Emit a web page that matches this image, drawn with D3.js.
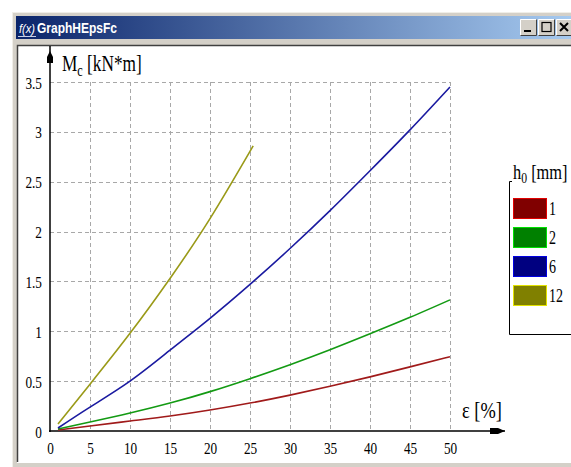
<!DOCTYPE html>
<html><head><meta charset="utf-8">
<script src="https://cdn.jsdelivr.net/npm/d3@7"></script>
<style>body{margin:0;background:#fff;}svg{display:block;}</style>
</head><body>
<script>
// ---- data ----
const epsValues = [1, 5, 10, 15, 20, 25, 30, 35, 40, 45, 50];
const epsShort = [1, 5, 10, 15, 20, 25.4];
const h1Values = [0.01, 0.05, 0.1, 0.15, 0.21, 0.28, 0.36, 0.448, 0.543, 0.643, 0.745];
const h2Values = [0.02, 0.09, 0.18, 0.28, 0.395, 0.525, 0.665, 0.815, 0.975, 1.14, 1.315];
const h6Values = [0.03, 0.24, 0.5, 0.81, 1.13, 1.47, 1.83, 2.21, 2.61, 3.02, 3.45];
const h12Values = [0.07, 0.47, 0.98, 1.53, 2.13, 2.86];
const seriesNames = ["1", "2", "6", "12"];
const seriesColors = ["#800000", "#008000", "#000080", "#808000"];
const lineColors = ["#a01a1a", "#139a13", "#1a1aa0", "#9a9a18"];
const xTicks = [0, 5, 10, 15, 20, 25, 30, 35, 40, 45, 50];
const yTicks = [0, 0.5, 1, 1.5, 2, 2.5, 3, 3.5];

const series = [
  {name: seriesNames[0], xs: epsValues, ys: h1Values},
  {name: seriesNames[1], xs: epsValues, ys: h2Values},
  {name: seriesNames[2], xs: epsValues, ys: h6Values},
  {name: seriesNames[3], xs: epsShort, ys: h12Values}
];

const W = 571, H = 467;
const svg = d3.select("body").append("svg").attr("width", W).attr("height", H);

// ---- window chrome ----
svg.append("rect").attr("x", 0).attr("y", 0).attr("width", W).attr("height", H).attr("fill", "#fff");
svg.append("rect").attr("x", 12).attr("y", 12).attr("width", W - 12).attr("height", H - 12).attr("fill", "#d4d0c8");
svg.append("line").attr("x1", 12).attr("x2", W).attr("y1", 12.5).attr("y2", 12.5).attr("stroke", "#f0eee8");
svg.append("line").attr("x1", 12.5).attr("x2", 12.5).attr("y1", 12).attr("y2", H).attr("stroke", "#f0eee8");
const grad = svg.append("defs").append("linearGradient").attr("id", "tb");
grad.append("stop").attr("offset", "0%").attr("stop-color", "#0a246a");
grad.append("stop").attr("offset", "100%").attr("stop-color", "#a6caf0");
svg.append("rect").attr("x", 16).attr("y", 16).attr("width", W - 16).attr("height", 23).attr("fill", "url(#tb)");
svg.append("text").attr("x", 19).attr("y", 33).attr("font-family", "Liberation Sans, Arial").attr("font-size", 12)
  .attr("font-style", "italic").attr("fill", "#fff").attr("textLength", 16).attr("lengthAdjust", "spacingAndGlyphs").text("f(x)");
svg.append("line").attr("x1", 18).attr("x2", 36).attr("y1", 36.5).attr("y2", 36.5).attr("stroke", "#c8d0e8").attr("stroke-width", 1);
svg.append("text").attr("x", 37).attr("y", 33).attr("font-family", "Liberation Sans, Arial").attr("font-size", 15)
  .attr("font-weight", "bold").attr("fill", "#fff").attr("textLength", 80).attr("lengthAdjust", "spacingAndGlyphs").text("GraphHEpsFc");
// title buttons
const btnX = [520, 538, 556];
btnX.forEach((bx, i) => {
  const g = svg.append("g").attr("transform", `translate(${bx},19)`);
  g.append("rect").attr("width", 17).attr("height", 17).attr("fill", "#d4d0c8");
  g.append("path").attr("d", "M0.5,16.5 V0.5 H16.5").attr("fill", "none").attr("stroke", "#fff");
  g.append("path").attr("d", "M0.5,16.5 H16.5 V0.5").attr("fill", "none").attr("stroke", "#404040");
  if (i === 0) g.append("rect").attr("x", 4).attr("y", 11).attr("width", 7).attr("height", 2).attr("fill", "#000");
  if (i === 1) g.append("rect").attr("x", 4).attr("y", 3.5).attr("width", 9).attr("height", 9).attr("fill", "none").attr("stroke", "#000").attr("stroke-width", 1.2);
  if (i === 2) g.append("path").attr("d", "M4,4 L12,12 M12,4 L4,12").attr("stroke", "#000").attr("stroke-width", 2);
});
// client area
svg.append("rect").attr("x", 17).attr("y", 45).attr("width", W - 17).attr("height", 418).attr("fill", "#fff");
svg.append("path").attr("d", `M17.5,462 V45.5 H${W}`).attr("fill", "none").attr("stroke", "#404040").attr("stroke-width", 1.5);

// ---- scales ----
const x = d3.scaleLinear().domain([0, 50]).range([50, 450]);
const y = d3.scaleLinear().domain([0, 3.5]).range([431, 82]);

// grid
const grid = svg.append("g").attr("stroke", "#a8a8a8").attr("stroke-dasharray", "4,3").attr("stroke-width", 1);
xTicks.filter(d => d > 0).forEach(d => {
  grid.append("line").attr("x1", Math.round(x(d)) + 0.5).attr("x2", Math.round(x(d)) + 0.5)
    .attr("y1", y(3.5)).attr("y2", y(0));
});
yTicks.filter(d => d > 0).forEach(d => {
  grid.append("line").attr("y1", Math.round(y(d)) + 0.5).attr("y2", Math.round(y(d)) + 0.5)
    .attr("x1", x(0)).attr("x2", x(50));
});

// axes with labels
const fontSerif = "Liberation Serif, Times New Roman, serif";
const xAxis = svg.append("g").attr("transform", `translate(0,${y(0)})`)
  .call(d3.axisBottom(x).tickValues(xTicks).tickSize(0).tickPadding(0).tickFormat(d3.format("d")));
xAxis.select(".domain").remove();
xAxis.selectAll("text").attr("font-family", fontSerif).attr("font-size", 17).attr("fill", "#000")
  .attr("y", 0).attr("dy", 0).attr("transform", "translate(0,23) scale(0.78,1)");
const yAxis = svg.append("g").attr("transform", `translate(${x(0)},0)`)
  .call(d3.axisLeft(y).tickValues(yTicks).tickSize(0).tickPadding(0).tickFormat(d => String(d)));
yAxis.select(".domain").remove();
yAxis.selectAll("text").attr("font-family", fontSerif).attr("font-size", 17).attr("fill", "#000")
  .attr("x", 0).attr("dy", 0).attr("transform", "translate(-8,6) scale(0.78,1)");

// axis lines with arrows
svg.append("line").attr("x1", 50).attr("x2", 50).attr("y1", 46).attr("y2", 432).attr("stroke", "#000").attr("stroke-width", 1.5);
svg.append("line").attr("x1", 49).attr("x2", 505).attr("y1", 431).attr("y2", 431).attr("stroke", "#000").attr("stroke-width", 1.5);
svg.append("path").attr("d", "M50,51 L53,57 L53,63 L47,63 L47,57 Z").attr("fill", "#000");
svg.append("path").attr("d", "M505,431 L498,428 L490,428 L490,434 L498,434 Z").attr("fill", "#000");

// axis titles
const yt = svg.append("text").attr("transform", "translate(62,71) scale(0.72,1)")
  .attr("font-family", fontSerif).attr("font-size", 24).attr("fill", "#000");
yt.append("tspan").text("M");
yt.append("tspan").attr("font-size", 17).attr("dy", 5).text("c");
yt.append("tspan").attr("dy", -5).text(" [kN*m]");
svg.append("text").attr("transform", "translate(462,418) scale(0.8,1)")
  .attr("font-family", fontSerif).attr("font-size", 23).attr("fill", "#000").text("ε [%]");

// ---- lines ----
const line = d3.line().x(d => x(d[0])).y(d => y(d[1])).curve(d3.curveNatural);
series.forEach((s, i) => {
  const pts = s.xs.map((v, j) => [v, s.ys[j]]);
  svg.append("path").datum(pts).attr("d", line).attr("fill", "none")
    .attr("stroke", lineColors[i]).attr("stroke-width", 1.6);
});

// ---- legend ----
svg.append("path").attr("d", `M512,181.5 H509.5 V334.5 H${W}`).attr("fill", "none").attr("stroke", "#000").attr("stroke-width", 1);
const lt = svg.append("text").attr("transform", "translate(513,179) scale(0.78,1)")
  .attr("font-family", fontSerif).attr("font-size", 21).attr("fill", "#000");
lt.append("tspan").text("h");
lt.append("tspan").attr("font-size", 15).attr("dy", 4).text("0");
lt.append("tspan").attr("dy", -4).text(" [mm]");
const leg = d3.scaleBand().domain(seriesNames).range([198, 314]);
seriesNames.forEach((n, i) => {
  svg.append("rect").attr("x", 513.5).attr("y", leg(n) + 0.5).attr("width", 33).attr("height", 20)
    .attr("fill", seriesColors[i]).attr("stroke", d3.color(seriesColors[i]).brighter(1.6)).attr("stroke-width", 1);
  svg.append("text").attr("transform", `translate(549,${leg(n) + 17}) scale(0.78,1)`)
    .attr("font-family", fontSerif).attr("font-size", 18).attr("fill", "#000").text(n);
});
</script>
</body></html>
